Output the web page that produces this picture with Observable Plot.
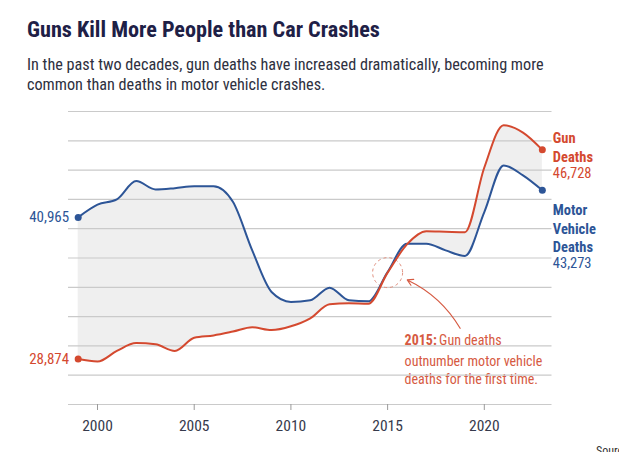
<!DOCTYPE html>
<html>
<head>
<meta charset="utf-8">
<script src="https://cdn.jsdelivr.net/npm/d3@7"></script>
<script src="https://cdn.jsdelivr.net/npm/@observablehq/plot@0.6"></script>
<style>
  html, body { margin: 0; padding: 0; background: #fff; overflow: hidden; }
  #wrap { position: relative; width: 619px; height: 452px; overflow: hidden; font-family: Roboto, sans-serif; font-stretch: condensed; }
  #title { position: absolute; left: 27px; top: 18px; margin: 0; font-size: 22.2px; line-height: 22px; font-weight: bold; color: #1e2046; white-space: nowrap; font-stretch: condensed; }
  #subtitle { position: absolute; left: 27px; top: 54.5px; margin: 0; font-size: 16.2px; line-height: 20px; color: #2e3040; white-space: nowrap; font-stretch: condensed; }
  #chart { position: absolute; left: 0; top: 100px; }
  #chart svg, #chart svg text { font-stretch: condensed; }
  #source { position: absolute; left: 596px; top: 444px; font-size: 12px; color: #333; white-space: nowrap; }
</style>
</head>
<body>
<div id="wrap">
  <h1 id="title">Guns Kill More People than Car Crashes</h1>
  <p id="subtitle">In the past two decades, gun deaths have increased dramatically, becoming more<br>common than deaths in motor vehicle crashes.</p>
  <div id="chart"></div>
  <div id="source">Source: CDC</div>
</div>
<script>
const years = [1999, 2000, 2001, 2002, 2003, 2004, 2005, 2006, 2007, 2008, 2009, 2010, 2011, 2012, 2013, 2014, 2015, 2016, 2017, 2018, 2019, 2020, 2021, 2022, 2023];
const gunDeaths = [28874, 28663, 29573, 30242, 30136, 29569, 30694, 30896, 31224, 31593, 31347, 31672, 32351, 33563, 33636, 33594, 36252, 38658, 39773, 39740, 39707, 45222, 48830, 48204, 46728];
const motorDeaths = [40965, 42050, 42500, 44060, 43350, 43460, 43630, 43630, 42300, 38150, 34600, 33750, 33890, 34970, 33890, 33800, 36300, 38720, 38720, 38150, 37670, 41420, 45400, 44550, 43273];
const xTicks = [2000, 2005, 2010, 2015, 2020];
const gridValues = [27500, 30000, 32500, 35000, 37500, 40000, 42500, 45000, 47500, 50000];
const baseValue = [25000];
const annotationYear = [2015];
const arrowFrom = [{year: 2018.75, value: 31500}];

const RED = "#d4492f";
const RED_TEXT = "#d65a42";
const BLUE = "#2d5597";
const FONT = "Roboto, sans-serif";

const data = years.map((year, i) => ({year, gun: gunDeaths[i], motor: motorDeaths[i]}));
const first = data[0];
const last = data[data.length - 1];
const ann = data.filter(d => annotationYear.includes(d.year));
const fmt = d3.format(",");

const chart = Plot.plot({
  width: 619,
  height: 352,
  marginLeft: 68,
  marginRight: 67.5,
  marginTop: 11,
  marginBottom: 48,
  x: {domain: [1998.5, 2023.5]},
  y: {domain: [25000, 50000], axis: null},
  style: {fontFamily: FONT, background: "transparent", overflow: "visible"},
  marks: [
    Plot.areaY(data, {x: "year", y1: "gun", y2: "motor", fill: "#efefef", curve: "monotone-x"}),
    Plot.text(ann, {x: "year", y: "gun", text: () => "2015:", fontWeight: "bold", fontSize: 14, fill: RED_TEXT, textAnchor: "start", lineAnchor: "top", dx: 17, dy: 62.8}),
    Plot.text(ann, {x: "year", y: "gun", text: () => "Gun deaths", fontSize: 14, fill: RED_TEXT, textAnchor: "start", lineAnchor: "top", dx: 51.5, dy: 62.8}),
    Plot.text(ann, {x: "year", y: "gun", text: () => "outnumber motor vehicle\ndeaths for the first time.", fontSize: 14, lineHeight: 1.25, fill: RED_TEXT, textAnchor: "start", lineAnchor: "top", dx: 17, dy: 81}),
    Plot.ruleY(gridValues, {stroke: "#cacaca", strokeWidth: 1.2}),
    Plot.ruleY(baseValue, {stroke: "#cacaca", strokeWidth: 1.2}),
    Plot.axisX({ticks: xTicks, tickFormat: d => String(d), tickSize: 6, tickPadding: 9, stroke: "#9a9a9a", fill: "#363a4c", fontSize: 15.5, label: null}),
    Plot.dot(ann, {x: "year", y: "gun", r: 15, stroke: "#e0907f", strokeDasharray: "3,3", strokeWidth: 1, fill: "none"}),
    Plot.arrow(arrowFrom.map(a => ({...a, tx: ann[0].year, ty: ann[0].gun})), {x1: "year", y1: "value", x2: "tx", y2: "ty", insetEnd: 21, bend: -22, stroke: RED_TEXT, strokeWidth: 1.2, headLength: 8}),
    Plot.line(data, {x: "year", y: "motor", stroke: BLUE, strokeWidth: 2, curve: "monotone-x"}),
    Plot.line(data, {x: "year", y: "gun", stroke: RED, strokeWidth: 2, curve: "monotone-x"}),
    Plot.dot([first, last], {x: "year", y: "motor", r: 3.5, fill: BLUE}),
    Plot.dot([first, last], {x: "year", y: "gun", r: 3.5, fill: RED}),
    Plot.text([first], {x: "year", y: "motor", text: d => fmt(d.motor), fill: BLUE, fontSize: 15, textAnchor: "end", dx: -9}),
    Plot.text([first], {x: "year", y: "gun", text: d => fmt(d.gun), fill: RED, fontSize: 15, textAnchor: "end", dx: -9}),
    Plot.text([last], {x: "year", y: "gun", text: () => "Gun\nDeaths", fill: RED, fontWeight: "bold", fontSize: 14.5, lineHeight: 1.31, textAnchor: "start", lineAnchor: "top", dx: 10.5, dy: -20.3}),
    Plot.text([last], {x: "year", y: "gun", text: d => fmt(d.gun), fill: RED, fontSize: 14.5, textAnchor: "start", lineAnchor: "top", dx: 10.5, dy: 17.7}),
    Plot.text([last], {x: "year", y: "motor", text: () => "Motor\nVehicle\nDeaths", fill: BLUE, fontWeight: "bold", fontSize: 14.5, lineHeight: 1.285, textAnchor: "start", lineAnchor: "top", dx: 10.5, dy: 11.4}),
    Plot.text([last], {x: "year", y: "motor", text: d => fmt(d.motor), fill: BLUE, fontSize: 14.5, textAnchor: "start", lineAnchor: "top", dx: 10.5, dy: 67.4})
  ]
});
document.getElementById("chart").appendChild(chart);
</script>
</body>
</html>
